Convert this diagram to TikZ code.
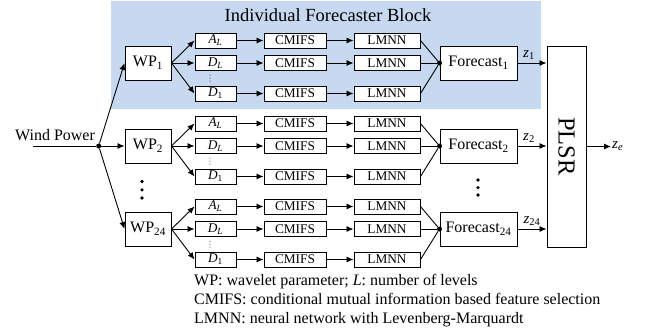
\documentclass[tikz,border=0pt]{standalone}
\usepackage{fontspec}
\setmainfont{Liberation Serif}
\usetikzlibrary{arrows.meta,calc}
\definecolor{blockblue}{RGB}{198,217,240}

\begin{document}
\begin{tikzpicture}[x=1pt,y=-1pt,
  box/.style={draw,line width=1pt,fill=white,inner sep=0pt,minimum height=15pt,
    font=\fontsize{13.3}{15}\selectfont},
  bigbox/.style={draw,line width=1pt,fill=white,inner sep=0pt,minimum height=34pt,
    font=\fontsize{16}{18}\selectfont},
  conn/.style={line width=0.9pt},
  arr/.style={conn,-{Latex[length=7pt,width=6pt]}},
  junction/.style={circle,fill,inner sep=0pt,minimum size=5pt},
  bigdot/.style={circle,fill,inner sep=0pt,minimum size=3.6pt},
  smalldot/.style={circle,fill,inner sep=0pt,minimum size=1pt},
  zlab/.style={inner sep=0pt,font=\fontsize{15}{17}\selectfont},
  legend/.style={anchor=base west,inner sep=0pt,font=\fontsize{16}{19}\selectfont},
]
\useasboundingbox (0,0) rectangle (645,335);

% shaded individual forecaster block
\fill[blockblue] (111,1) rectangle (541,109);
\node[inner sep=0pt,font=\fontsize{18.5}{20}\selectfont] (title) at (328,15) {Individual Forecaster Block};

% input
\coordinate (wpin) at (33,146);
\node[junction] (split) at (98.7,146) {};
\node[anchor=base,inner sep=0pt,font=\fontsize{16}{18}\selectfont] (wplabel) at (55,140.7) {Wind Power};
\draw[conn] (wpin) -- (split);

% combiner
\node[draw,line width=1pt,fill=white,minimum width=39pt,minimum height=201pt,inner sep=0pt,
  font=\fontsize{24.5}{26}\selectfont] (plsr) at (566.5,146.5) {\rotatebox{-90}{PLSR}};
\node[anchor=west,inner sep=1pt,font=\fontsize{15}{17}\selectfont] (ze) at (611,146.5)
  {\textit{z}\textsubscript{\textit{e}}};
\draw[arr] (plsr.east) -- (ze.west);

% three forecaster blocks
\foreach \g/\sub/\zx in {0/1/529,1/2/529,2/24/532} {
  \pgfmathsetmacro\yc{63+83*\g}
  \node[bigbox,minimum width=46pt] (wp\g) at (148,\yc) {WP\textsubscript{\sub}};
  \draw[arr] (split) -- (wp\g.west);
  \node[bigbox,minimum width=77pt] (fc\g) at (478.5,\yc) {Forecast\textsubscript{\sub}};
  \node[junction] (fj\g) at (fc\g.west) {};
  \foreach \r/\dy/\lab in {a/-22.5/{\textit{A}\textsubscript{\textit{L}}},
                           l/0/{\textit{D}\textsubscript{\textit{L}}},
                           d/30.5/{\textit{D}\textsubscript{1}}} {
    \node[box,minimum width=41pt] (lv\g\r) at (215.5,\yc+\dy) {\lab};
    \node[box,minimum width=62pt] (cm\g\r) at (295,\yc+\dy) {CMIFS};
    \node[box,minimum width=66pt] (lm\g\r) at (387,\yc+\dy) {LMNN};
    \draw[arr] (wp\g.east) -- (lv\g\r.west);
    \draw[arr] (lv\g\r.east) -- (cm\g\r.west);
    \draw[arr] (cm\g\r.east) -- (lm\g\r.west);
    \draw[conn] (lm\g\r.east) -- (fj\g);
  }
  \node[smalldot] (sd\g a) at (210,\yc+12) {};
  \node[smalldot] (sd\g b) at (210,\yc+15) {};
  \node[smalldot] (sd\g c) at (210,\yc+18) {};
  \draw[arr] (fc\g.east) -- (fc\g.east -| plsr.west);
  \node[zlab] (z\g) at (\zx,\yc-8) {\textit{z}\textsubscript{\sub}};
}

% ellipses between block 2 and block 24
\node[bigdot] (wpd1) at (142,181.5) {};
\node[bigdot] (wpd2) at (142,189.8) {};
\node[bigdot] (wpd3) at (142,198) {};
\node[bigdot] (fcd1) at (478,180) {};
\node[bigdot] (fcd2) at (478,187.6) {};
\node[bigdot] (fcd3) at (478,195) {};

% legend
\node[legend] (leg1) at (194,285) {WP: wavelet parameter; \textit{L}: number of levels};
\node[legend] (leg2) at (194,304) {CMIFS: conditional mutual information based feature selection};
\node[legend] (leg3) at (194,323) {LMNN: neural network with Levenberg-Marquardt};
\end{tikzpicture}
\end{document}
